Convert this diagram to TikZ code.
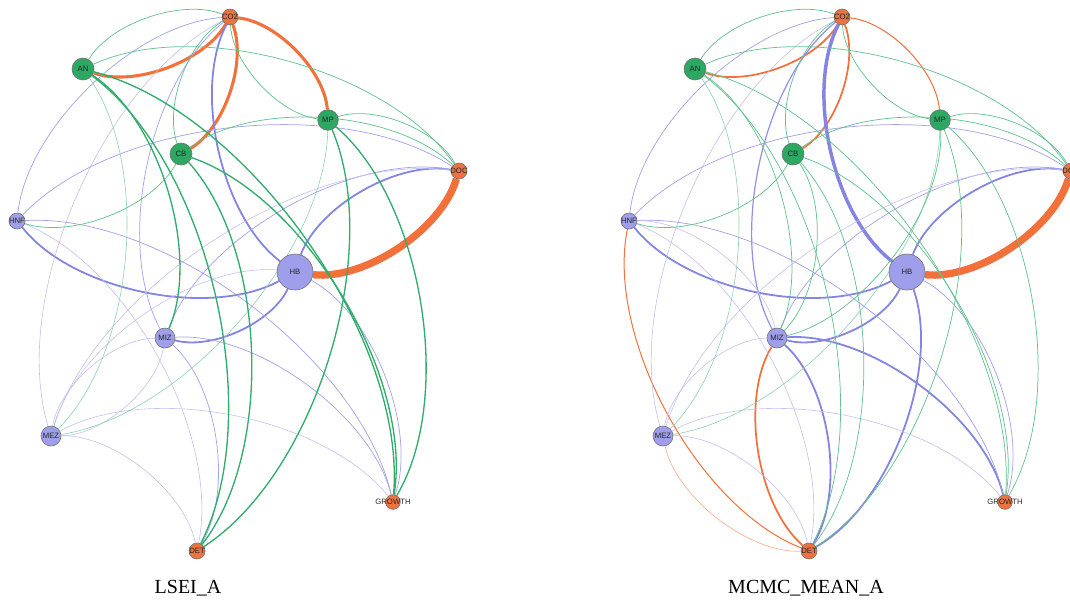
\documentclass[tikz,border=0pt]{standalone}
\usepackage{fontspec}
\setmainfont{Liberation Serif}
\newfontfamily\labfont{Liberation Sans}
\usetikzlibrary{backgrounds}
\definecolor{gfill}{RGB}{44,168,98}
\definecolor{ofill}{RGB}{238,114,64}
\definecolor{pfill}{RGB}{158,158,234}
\definecolor{gline}{RGB}{48,172,108}
\definecolor{pline}{RGB}{132,132,226}
\definecolor{oline}{RGB}{242,112,58}
\tikzset{
  nd/.style={circle,draw=black!55,line width=0.45pt,inner sep=0pt},
  gnode/.style={nd,fill=gfill},
  onode/.style={nd,fill=ofill},
  pnode/.style={nd,fill=pfill},
  every label/.style={font=\labfont\fontsize{5.8}{6}\selectfont,text=black!85,inner sep=0pt},
  ed/.style={bend left=40,looseness=0.78},
  gthin/.style={ed,draw=gline!75,line width=0.55pt},
  glite/.style={ed,draw=gline!55,line width=0.45pt},
  gmed/.style={ed,draw=gline,line width=1pt},
  pthin/.style={ed,draw=pline!75,line width=0.55pt},
  plite/.style={ed,draw=pline!50,line width=0.45pt},
  pmid/.style={ed,draw=pline!90,line width=0.9pt},
  pmed/.style={ed,draw=pline,line width=1.35pt},
  pthick/.style={ed,draw=pline,line width=2.6pt},
  othin/.style={ed,draw=oline,line width=0.75pt},
  olite/.style={ed,draw=oline!55,line width=0.5pt},
  omed/.style={ed,draw=oline,line width=1.3pt},
  othick/.style={ed,draw=oline,line width=2.3pt},
  ohuge/.style={ed,draw=oline,line width=5.5pt},
  caption/.style={font=\fontsize{15}{18}\selectfont,inner sep=0pt}
}
\newcommand\placenodes[1]{%
  \node[onode,minimum size=12pt,label={center:CO2}] (#1CO2) at (230,17) {};
  \node[gnode,minimum size=16.5pt,label={center:AN}] (#1AN) at (83,69) {};
  \node[gnode,minimum size=15.5pt,label={center:MP}] (#1MP) at (328,120) {};
  \node[gnode,minimum size=16.5pt,label={center:CB}] (#1CB) at (181,154) {};
  \node[onode,minimum size=12pt,label={center:DOC}] (#1DOC) at (459,171) {};
  \node[pnode,minimum size=12pt,label={center:HNF}] (#1HNF) at (17,221) {};
  \node[pnode,minimum size=27pt,label={center:HB}] (#1HB) at (295,272) {};
  \node[pnode,minimum size=15pt,label={center:MIZ}] (#1MIZ) at (165,338) {};
  \node[pnode,minimum size=15pt,label={center:MEZ}] (#1MEZ) at (51,436) {};
  \node[onode,minimum size=11pt,label={center:GROWTH}] (#1GROWTH) at (393,502) {};
  \node[onode,minimum size=12pt,label={center:DET}] (#1DET) at (197,551) {};
}
\begin{document}
\begin{tikzpicture}[x=0.75pt,y=-0.75pt]
\useasboundingbox (0,0) rectangle (1070,601);
\placenodes{L}
\begin{scope}[xshift=459pt]
\placenodes{R}
\end{scope}
\node[caption] (capL) at (188,588) {LSEI\_A};
\node[caption] (capR) at (806,588) {MCMC\_MEAN\_A};
\begin{pgfonlayer}{background}
% ---- left graph ----
\draw[othick] (LCO2) to (LAN);
\draw[othick] (LCO2) to (LCB);
\draw[othick] (LCO2) to (LMP);
\draw[ohuge] (LDOC) to (LHB);
\draw[pmed] (LHB) to (LCO2);
\draw[pmed] (LHB) to (LDOC);
\draw[pmed] (LHB) to (LHNF);
\draw[pmed] (LHB) to (LMIZ);
\draw[pthin] (LHNF) to (LCO2);
\draw[plite] (LMEZ) to (LCO2);
\draw[pthin] (LMIZ) to (LCO2);
\draw[pthin] (LHNF) to (LDOC);
\draw[pthin] (LMIZ) to (LDOC);
\draw[plite] (LMEZ) to (LDOC);
\draw[pthin] (LHNF) to (LGROWTH);
\draw[pthin] (LMIZ) to (LGROWTH);
\draw[plite] (LMEZ) to (LGROWTH);
\draw[pthin] (LHB) to (LGROWTH);
\draw[pthin] (LMIZ) to (LDET);
\draw[plite] (LMEZ) to (LDET);
\draw[plite] (LHNF) to (LDET);
\draw[plite] (LMEZ) to (LMIZ);
\draw[plite] (LMIZ) to (LMEZ);
\draw[plite] (LMEZ) to (LHB);
\draw[gthin] (LAN) to (LCO2);
\draw[gthin] (LAN) to (LDOC);
\draw[gthin] (LCB) to (LCO2);
\draw[gthin] (LMP) to (LCO2);
\draw[gthin] (LMP) to (LDOC);
\draw[gthin] (LCB) to (LDOC);
\draw[gthin] (LCB) to (LHNF);
\draw[glite] (LAN) to (LMEZ);
\draw[glite] (LMP) to (LMEZ);
\draw[gmed] (LAN) to (LMIZ);
\draw[gmed] (LAN) to (LGROWTH);
\draw[gmed] (LCB) to (LGROWTH);
\draw[gmed] (LMP) to (LGROWTH);
\draw[gmed] (LAN) to (LDET);
\draw[gmed] (LCB) to (LDET);
\draw[gmed] (LMP) to (LDET);
% ---- right graph ----
\draw[omed] (RCO2) to (RAN);
\draw[omed] (RCO2) to (RCB);
\draw[othin] (RCO2) to (RMP);
\draw[ohuge] (RDOC) to (RHB);
\draw[othin] (RDET) to (RHNF);
\draw[omed] (RDET) to (RMIZ);
\draw[olite] (RDET) to (RMEZ);
\draw[pthick] (RHB) to (RCO2);
\draw[pmed] (RHB) to (RDOC);
\draw[pmed] (RHB) to (RHNF);
\draw[pmed] (RHB) to (RMIZ);
\draw[pmed] (RHB) to (RDET);
\draw[pmed] (RMIZ) to (RGROWTH);
\draw[pmed] (RMIZ) to (RDET);
\draw[pthin] (RHNF) to (RCO2);
\draw[plite] (RMEZ) to (RCO2);
\draw[pmid] (RMIZ) to (RCO2);
\draw[pthin] (RHNF) to (RDOC);
\draw[pthin] (RMIZ) to (RDOC);
\draw[plite] (RMEZ) to (RDOC);
\draw[pthin] (RHNF) to (RGROWTH);
\draw[plite] (RMEZ) to (RGROWTH);
\draw[pthin] (RHB) to (RGROWTH);
\draw[plite] (RMEZ) to (RDET);
\draw[plite] (RHNF) to (RDET);
\draw[plite] (RMEZ) to (RMIZ);
\draw[plite] (RHNF) to (RMIZ);
\draw[gthin] (RAN) to (RCO2);
\draw[gthin] (RAN) to (RDOC);
\draw[gthin] (RCB) to (RCO2);
\draw[gthin] (RMP) to (RCO2);
\draw[gthin] (RMP) to (RDOC);
\draw[gthin] (RCB) to (RDOC);
\draw[gthin] (RCB) to (RHNF);
\draw[glite] (RAN) to (RMEZ);
\draw[glite] (RMP) to (RMEZ);
\draw[gthin] (RAN) to (RMIZ);
\draw[gthin] (RCB) to (RMIZ);
\draw[gthin] (RMP) to (RMIZ);
\draw[gthin] (RAN) to (RGROWTH);
\draw[gthin] (RCB) to (RGROWTH);
\draw[gthin] (RMP) to (RGROWTH);
\draw[gthin] (RAN) to (RDET);
\draw[gthin] (RCB) to (RDET);
\draw[gthin] (RMP) to (RDET);
\end{pgfonlayer}
\end{tikzpicture}
\end{document}
